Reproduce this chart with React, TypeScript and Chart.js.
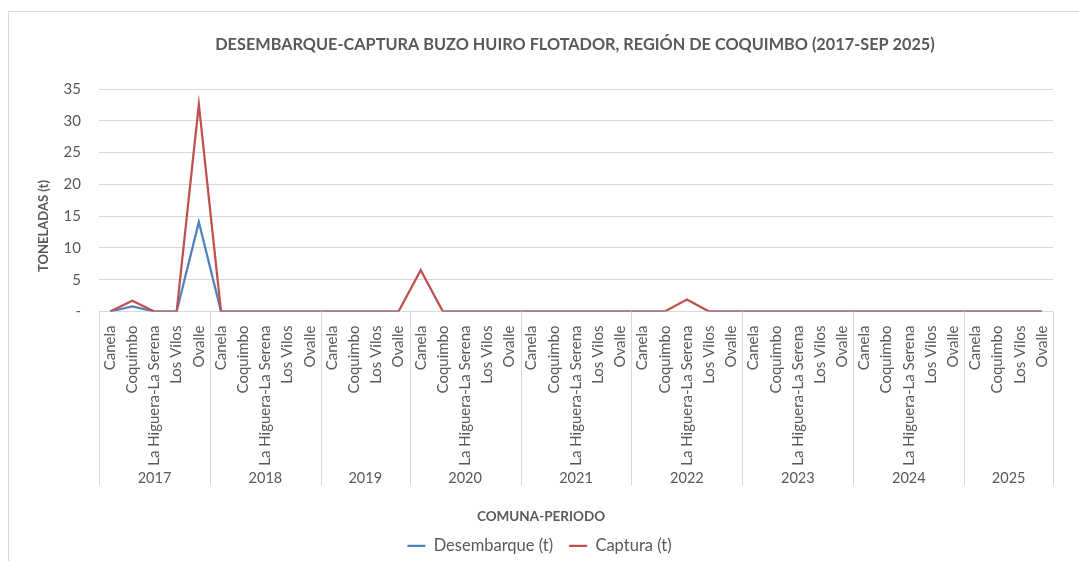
import React, { useEffect, useRef } from 'react';
import { Chart, registerables } from 'chart.js';

Chart.register(...registerables);

const TITLE = 'DESEMBARQUE-CAPTURA BUZO HUIRO FLOTADOR, REGIÓN DE COQUIMBO (2017-SEP 2025)';
const X_TITLE = 'COMUNA-PERIODO';
const Y_TITLE = 'TONELADAS (t)';

const comunas = [
  'Canela', 'Coquimbo', 'La Higuera-La Serena', 'Los Vilos', 'Ovalle',
  'Canela', 'Coquimbo', 'La Higuera-La Serena', 'Los Vilos', 'Ovalle',
  'Canela', 'Coquimbo', 'Los Vilos', 'Ovalle',
  'Canela', 'Coquimbo', 'La Higuera-La Serena', 'Los Vilos', 'Ovalle',
  'Canela', 'Coquimbo', 'La Higuera-La Serena', 'Los Vilos', 'Ovalle',
  'Canela', 'Coquimbo', 'La Higuera-La Serena', 'Los Vilos', 'Ovalle',
  'Canela', 'Coquimbo', 'La Higuera-La Serena', 'Los Vilos', 'Ovalle',
  'Canela', 'Coquimbo', 'La Higuera-La Serena', 'Los Vilos', 'Ovalle',
  'Canela', 'Coquimbo', 'Los Vilos', 'Ovalle',
];

const periodos = [
  '2017', '2017', '2017', '2017', '2017',
  '2018', '2018', '2018', '2018', '2018',
  '2019', '2019', '2019', '2019',
  '2020', '2020', '2020', '2020', '2020',
  '2021', '2021', '2021', '2021', '2021',
  '2022', '2022', '2022', '2022', '2022',
  '2023', '2023', '2023', '2023', '2023',
  '2024', '2024', '2024', '2024', '2024',
  '2025', '2025', '2025', '2025',
];

const desembarque = [
  0, 0.8, 0, 0, 14.1,
  0, 0, 0, 0, 0,
  0, 0, 0, 0,
  null, 0, 0, 0, 0,
  0, 0, 0, 0, 0,
  0, 0, null, 0, 0,
  0, 0, 0, 0, 0,
  0, 0, 0, 0, 0,
  0, 0, 0, 0,
];

const captura = [
  0, 1.7, 0, 0, 32.6,
  0, 0, 0, 0, 0,
  0, 0, 0, 0,
  6.5, 0, 0, 0, 0,
  0, 0, 0, 0, 0,
  0, 0, 1.9, 0, 0,
  0, 0, 0, 0, 0,
  0, 0, 0, 0, 0,
  0, 0, 0, 0,
];

const FONT = 'Lato, "Open Sans", sans-serif';
const TEXT = '#595959';
const GRID = '#d9d9d9';

const decorPlugin = {
  id: 'decor',
  beforeDraw(chart: any) {
    const { ctx, width, height } = chart;
    ctx.save();
    ctx.fillStyle = '#ffffff';
    ctx.fillRect(0, 0, width, height);
    ctx.strokeStyle = GRID;
    ctx.lineWidth = 1;
    ctx.strokeRect(8.5, 11.5, width + 20, height + 20);
    ctx.restore();
  },
  afterDraw(chart: any) {
    const { ctx, chartArea } = chart;
    const xs = chart.scales.x;
    const half = (xs.getPixelForValue(1) - xs.getPixelForValue(0)) / 2;
    ctx.save();
    const groups: { year: string; start: number; end: number }[] = [];
    periodos.forEach((p, i) => {
      const g = groups[groups.length - 1];
      if (g && g.year === p) g.end = i;
      else groups.push({ year: p, start: i, end: i });
    });
    ctx.strokeStyle = GRID;
    ctx.lineWidth = 1;
    const top = chartArea.bottom;
    const bot = chartArea.bottom + 174;
    const bounds: number[] = [];
    groups.forEach((g, k) => {
      if (k === 0) bounds.push(xs.getPixelForValue(g.start) - half);
      bounds.push(xs.getPixelForValue(g.end) + half);
    });
    bounds.forEach((bx) => {
      const px = Math.round(bx) + 0.5;
      ctx.beginPath();
      ctx.moveTo(px, top);
      ctx.lineTo(px, bot);
      ctx.stroke();
    });
    ctx.fillStyle = TEXT;
    ctx.font = `14.5px ${FONT}`;
    ctx.textAlign = 'center';
    ctx.textBaseline = 'middle';
    groups.forEach((g) => {
      const cx = (xs.getPixelForValue(g.start) + xs.getPixelForValue(g.end)) / 2;
      ctx.fillText(g.year, cx, chartArea.bottom + 167);
    });
    ctx.font = `bold 16.3px ${FONT}`;
    ctx.fillText(TITLE, 575, 45);
    ctx.font = `bold 13.5px ${FONT}`;
    ctx.fillText(X_TITLE, 541, 517);
    ctx.translate(44, 226);
    ctx.rotate(-Math.PI / 2);
    ctx.font = `bold 13px ${FONT}`;
    ctx.fillText(Y_TITLE, 0, 0);
    ctx.restore();
  },
};

export default function App() {
  const ref = useRef<HTMLCanvasElement | null>(null);
  useEffect(() => {
    if (!ref.current) return;
    const chart = new Chart(ref.current, {
      type: 'line',
      data: {
        labels: comunas,
        datasets: [
          {
            label: 'Desembarque (t)',
            data: desembarque,
            borderColor: '#4f81bd',
            backgroundColor: '#4f81bd',
            borderWidth: 2.25,
            pointRadius: 0,
            tension: 0,
            spanGaps: false,
            order: 1,
          },
          {
            label: 'Captura (t)',
            data: captura,
            borderColor: '#c0504d',
            backgroundColor: '#c0504d',
            borderWidth: 2.25,
            pointRadius: 0,
            tension: 0,
            order: 0,
          },
        ],
      },
      options: {
        animation: false,
        responsive: false,
        maintainAspectRatio: false,
        layout: { padding: { top: 89, left: 0, right: 0, bottom: -3 } },
        plugins: {
          title: { display: false },
          tooltip: { enabled: false },
          legend: {
            display: true,
            position: 'bottom',
            labels: {
              usePointStyle: true,
              pointStyle: 'line',
              pointStyleWidth: 18,
              padding: 16,
              color: TEXT,
              font: { family: FONT, size: 16.5 },
              sort: (a: any, b: any) => a.datasetIndex - b.datasetIndex,
            },
          },
        },
        scales: {
          x: {
            type: 'category',
            offset: true,
            grid: { display: false },
            border: { display: false },
            ticks: {
              autoSkip: false,
              minRotation: 90,
              maxRotation: 90,
              padding: 6,
              color: TEXT,
              font: { family: FONT, size: 15 },
            },
            afterFit: (s: any) => {
              s.height = 210;
            },
          },
          y: {
            min: 0,
            max: 35,
            grid: { color: GRID, lineWidth: 1, drawTicks: false },
            border: { display: false },
            ticks: {
              stepSize: 5,
              padding: 18,
              color: TEXT,
              font: { family: FONT, size: 15 },
              callback: (v: any) => (Number(v) === 0 ? '-' : String(v)),
            },
            afterFit: (s: any) => {
              s.width = 99;
            },
          },
          y2: {
            position: 'right',
            display: true,
            grid: { display: false },
            border: { display: false },
            ticks: { display: false },
            afterFit: (s: any) => {
              s.width = 26;
            },
          },
        },
      },
      plugins: [decorPlugin],
    });
    return () => chart.destroy();
  }, []);
  return (
    <div style={{ position: 'fixed', left: 0, top: 0, width: 1079, height: 561, background: '#fff' }}>
      <canvas ref={ref} width={1079} height={561} style={{ display: 'block' }} />
    </div>
  );
}
